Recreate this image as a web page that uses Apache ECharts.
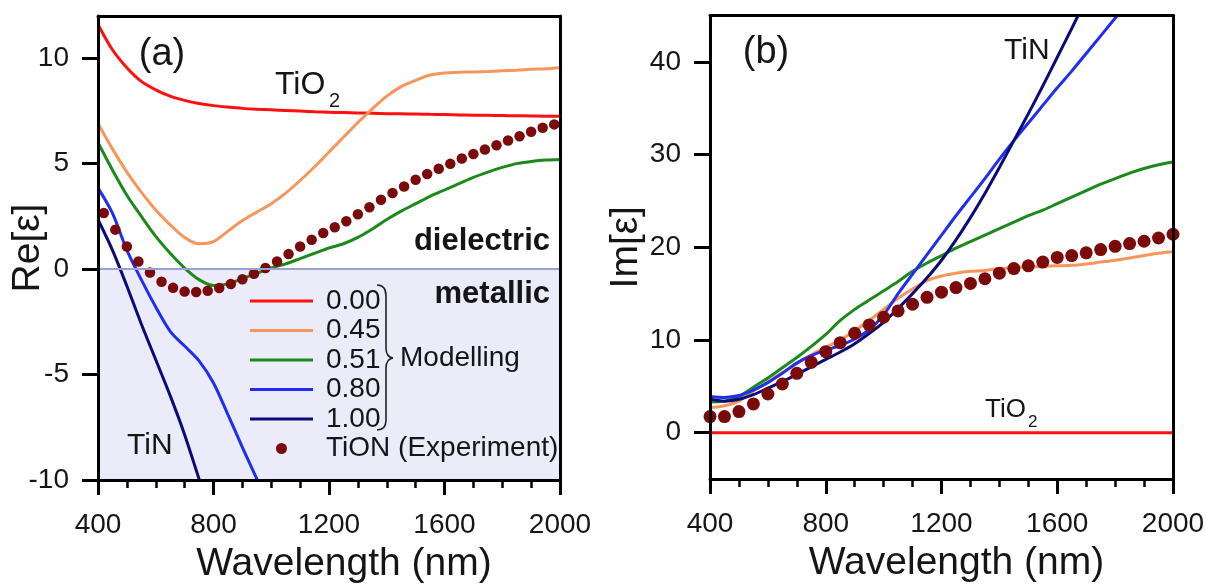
<!DOCTYPE html>
<html>
<head>
<meta charset="utf-8">
<script src="https://cdn.jsdelivr.net/npm/echarts@6.0.0/dist/echarts.min.js"></script>
<style>
html,body{margin:0;padding:0;background:#fff;}
#chart{width:1206px;height:585px;}
</style>
</head>
<body>
<div id="chart"></div>
<script>
// ---------- data ----------
const seriesNames = ['0.00', '0.45', '0.51', '0.80', '1.00', 'TiON (Experiment)'];
const xTicks = [400, 800, 1200, 1600, 2000];
const yTicksA = [-10, -5, 0, 5, 10];
const yTicksB = [0, 10, 20, 30, 40];

const wlModel = [400,450,500,550,600,650,700,750,800,850,900,950,1000,1050,1100,1150,1200,1250,1300,1350,1400,1450,1500,1550,1600,1650,1700,1750,1800,1850,1900,1950,2000];
const wlExpA = [420,460,500,540,580,620,660,700,740,780,820,860,900,940,980,1020,1060,1100,1140,1180,1220,1260,1300,1340,1380,1420,1460,1500,1540,1580,1620,1660,1700,1740,1780,1820,1860,1900,1940,1980];
const wlExpB = [400,450,500,550,600,650,700,750,800,850,900,950,1000,1050,1100,1150,1200,1250,1300,1350,1400,1450,1500,1550,1600,1650,1700,1750,1800,1850,1900,1950,2000];
const wlTiO2B = [400, 2000];

// (a) Re[eps]
const reA_000 = [11.6,10.4,9.55,8.9,8.5,8.2,8.0,7.85,7.75,7.68,7.62,7.58,7.55,7.52,7.49,7.46,7.44,7.42,7.4,7.39,7.37,7.36,7.35,7.34,7.33,7.31,7.3,7.29,7.28,7.27,7.26,7.25,7.25];
const reA_045 = [6.9,5.7,4.6,3.65,2.8,2.1,1.5,1.2,1.3,1.8,2.3,2.7,3.1,3.6,4.2,4.85,5.55,6.25,6.95,7.6,8.2,8.65,8.95,9.2,9.3,9.33,9.35,9.37,9.4,9.43,9.47,9.5,9.55];
const reA_051 = [6.0,4.7,3.5,2.5,1.55,0.75,0.05,-0.5,-0.78,-0.7,-0.45,-0.2,0.05,0.25,0.5,0.75,1.0,1.2,1.5,1.9,2.35,2.75,3.1,3.45,3.75,4.05,4.35,4.6,4.82,5.0,5.1,5.17,5.2];
const reA_080 = [3.85,2.65,0.9,-0.5,-1.8,-2.95,-3.65,-4.35,-5.4,-6.9,-8.45,-9.95,-11.5];
const reA_100 = [2.35,0.9,-0.8,-2.6,-4.3,-6.0,-7.85,-9.95,-12.0];
const reA_exp = [2.66,1.87,1.07,0.36,-0.16,-0.6,-0.89,-1.06,-1.09,-1.03,-0.9,-0.71,-0.48,-0.22,0.05,0.36,0.71,1.07,1.39,1.71,1.98,2.27,2.6,2.93,3.29,3.61,3.92,4.24,4.51,4.76,4.99,5.24,5.46,5.67,5.87,6.1,6.3,6.51,6.7,6.86];

// (b) Im[eps]
const imB_000 = [0, 0];
const imB_045 = [2.7,2.9,3.4,4.5,5.5,6.5,7.5,8.4,9.2,10.0,11.0,12.1,13.3,14.5,15.5,16.4,16.9,17.2,17.4,17.5,17.7,17.8,17.9,17.95,18.0,18.05,18.2,18.4,18.6,18.85,19.1,19.35,19.55];
const imB_051 = [3.3,3.4,3.9,4.9,5.9,7.0,8.1,9.3,10.6,12.1,13.3,14.3,15.3,16.3,17.4,18.3,19.1,19.9,20.6,21.3,22.0,22.7,23.4,24.0,24.7,25.4,26.1,26.8,27.4,28.0,28.5,28.9,29.2];
const imB_080 = [3.9,3.8,4.0,4.6,5.4,6.4,7.5,8.3,8.9,9.4,10.1,11.1,12.7,15.0,17.1,19.2,21.3,23.4,25.4,27.4,29.5,31.5,33.4,35.3,37.2,39.0,40.9,42.8,44.7,46.5];
const imB_100 = [3.6,3.4,3.6,4.1,4.8,5.5,6.3,7.1,7.9,8.7,9.6,10.7,11.9,13.4,15.0,16.7,18.6,20.8,23.2,25.8,28.6,31.5,34.4,37.4,40.5,43.6,46.8];
const imB_exp = [1.73,1.73,2.27,3.1,4.17,5.25,6.4,7.59,8.74,9.71,10.72,11.62,12.45,13.13,13.85,14.6,15.15,15.65,16.1,16.6,17.2,17.7,18.0,18.4,18.9,19.1,19.4,19.75,20.1,20.4,20.65,21.0,21.4];

// ---------- styling ----------
const FONT = '"Liberation Sans", Arial, sans-serif';
const colors = {'0.00':'#ff1010', '0.45':'#f8955a', '0.51':'#1b8a1b', '0.80':'#1f2ef0', '1.00':'#0b0b78', 'TiON (Experiment)':'#7b0a0a'};
const TXT = '#151515';
const LINE_ICON = 'path://M0,0H63V3H0Z';

function pairs(xs, ys) { return ys.map((y, i) => [xs[i], y]); }

function lineSeries(name, xs, ys, gi) {
  return {
    name: name, type: 'line', xAxisIndex: gi, yAxisIndex: gi,
    data: pairs(xs, ys), showSymbol: false, symbol: 'none',
    smooth: 0.3,
    lineStyle: {color: colors[name], width: 3}, itemStyle: {color: colors[name]},
    z: 2, silent: true
  };
}
function dotSeries(xs, ys, gi, size) {
  const name = 'TiON (Experiment)';
  return {
    name: name, type: 'scatter', xAxisIndex: gi, yAxisIndex: gi,
    data: pairs(xs, ys), symbol: 'circle', symbolSize: size,
    itemStyle: {color: colors[name], opacity: 1}, z: 2.5, silent: true
  };
}

function xAxisCfg(gi) {
  return {
    gridIndex: gi, type: 'value', min: 400, max: 2000, interval: 400, position: 'bottom', z: 6,
    axisLine: {show: true, onZero: false, lineStyle: {color: '#000', width: 3}},
    axisTick: {show: true, inside: false, length: 15, lineStyle: {color: '#000', width: 3}},
    minorTick: {show: true, splitNumber: 4, length: 8, lineStyle: {color: '#000', width: 2.5}},
    axisLabel: {show: true, margin: 31, fontSize: 28, color: TXT, fontFamily: FONT,
      formatter: (v) => String(v)},
    splitLine: {show: false}, minorSplitLine: {show: false},
    name: 'Wavelength (nm)', nameLocation: 'middle', nameGap: 65, nameMoveOverlap: false,
    nameTextStyle: {fontSize: 39, color: TXT, fontFamily: FONT, padding: [0, 0, 0, 30]}
  };
}
function frameX(gi) {
  return {
    gridIndex: gi, type: 'value', min: 400, max: 2000, position: 'top', z: 6,
    axisLine: {show: true, onZero: false, lineStyle: {color: '#000', width: 3}},
    axisTick: {show: false}, axisLabel: {show: false}, splitLine: {show: false}
  };
}
function frameY(gi, mn, mx) {
  return {
    gridIndex: gi, type: 'value', min: mn, max: mx, position: 'right', z: 6,
    axisLine: {show: true, onZero: false, lineStyle: {color: '#000', width: 3}},
    axisTick: {show: false}, axisLabel: {show: false}, splitLine: {show: false}
  };
}
function yAxisCfg(gi, mn, mx, ticks, name, gap) {
  return {
    gridIndex: gi, type: 'value', min: mn, max: mx, position: 'left', z: 6,
    axisLine: {show: true, onZero: false, lineStyle: {color: '#000', width: 3}},
    axisTick: {show: true, inside: false, length: 16, lineStyle: {color: '#000', width: 3}, customValues: ticks},
    axisLabel: {show: true, margin: 29, fontSize: 28, color: TXT, fontFamily: FONT, customValues: ticks},
    splitLine: {show: false},
    name: name, nameLocation: 'middle', nameGap: gap, nameMoveOverlap: false,
    nameTextStyle: {fontSize: 39, color: TXT, fontFamily: FONT}
  };
}

function txt(text, x, y, size, opts) {
  opts = opts || {};
  return {
    type: 'text', x: x, y: y, z: 20, silent: true,
    style: {
      text: text, fontSize: size, fontFamily: FONT, fontWeight: opts.bold ? 'bold' : 'normal',
      fill: TXT, align: opts.align || 'left', verticalAlign: 'middle'
    }
  };
}
function quad(x1, y1, cx, cy, x2, y2) {
  return {type: 'bezierCurve', z: 20, silent: true,
    shape: {x1: x1, y1: y1, cpx1: cx, cpy1: cy, x2: x2, y2: y2},
    style: {fill: 'none', stroke: '#222', lineWidth: 1.6}};
}
function seg(x1, y1, x2, y2) {
  return {type: 'line', z: 20, silent: true,
    shape: {x1: x1, y1: y1, x2: x2, y2: y2},
    style: {stroke: '#222', lineWidth: 1.6}};
}

const legendData = seriesNames.map((n) => n === 'TiON (Experiment)'
  ? {name: n, icon: 'circle'}
  : {name: n, icon: LINE_ICON});

const chart = echarts.init(document.getElementById('chart'), null, {renderer: 'canvas'});

const option = {
  backgroundColor: '#fff',
  animation: false,
  textStyle: {fontFamily: FONT},
  grid: [
    {left: 98, top: 16, width: 462, height: 464, outerBoundsMode: 'none', containLabel: false},
    {left: 710, top: 15.5, width: 463, height: 463.5, outerBoundsMode: 'none', containLabel: false}
  ],
  xAxis: [xAxisCfg(0), xAxisCfg(1), frameX(0), frameX(1)],
  yAxis: [
    yAxisCfg(0, -10, 12, yTicksA, 'Re[ε]', 50),
    yAxisCfg(1, -5, 45, yTicksB, 'Im[ε]', 64),
    frameY(0, -10, 12), frameY(1, -5, 45)
  ],
  legend: {
    show: true, data: legendData, orient: 'vertical', left: 245, top: 282,
    itemWidth: 63, itemHeight: 11, itemGap: 1.5, selectedMode: false, symbolKeepAspect: true,
    textStyle: {fontSize: 28, color: TXT, fontFamily: FONT, padding: [0, 0, 0, 8]},
    z: 10
  },
  graphic: [
    txt('(a)', 162, 55, 38, {align: 'center'}),
    txt('TiO', 275, 85, 32),
    txt('2', 329, 101, 20),
    txt('dielectric', 550, 241, 31, {bold: true, align: 'right'}),
    txt('metallic', 550, 294, 31, {bold: true, align: 'right'}),
    txt('TiN', 127, 446, 30),
    txt('Modelling', 400, 358, 28),
    quad(377, 285, 386, 285, 386, 296),
    seg(386, 296, 386, 348),
    quad(386, 348, 386, 357, 393, 358),
    quad(393, 358, 386, 359, 386, 368),
    seg(386, 368, 386, 420),
    quad(386, 420, 386, 430, 377, 430),
    txt('(b)', 766, 53, 38, {align: 'center'}),
    txt('TiN', 1004, 51, 30),
    txt('TiO', 985, 410, 26),
    txt('2', 1028, 422, 17)
  ],
  series: [
    // panel (a)
    lineSeries('0.00', wlModel, reA_000, 0),
    lineSeries('0.45', wlModel, reA_045, 0),
    lineSeries('0.51', wlModel, reA_051, 0),
    lineSeries('0.80', wlModel, reA_080, 0),
    lineSeries('1.00', wlModel, reA_100, 0),
    dotSeries(wlExpA, reA_exp, 0, 10.5),
    {
      name: 'metallic region', type: 'line', xAxisIndex: 0, yAxisIndex: 0, data: [], z: 3, silent: true,
      markArea: {silent: true, itemStyle: {color: 'rgba(188,188,236,0.30)'},
        data: [[{coord: [400, 0]}, {coord: [2000, -10]}]]},
      markLine: {silent: true, symbol: ['none', 'none'], label: {show: false},
        lineStyle: {color: '#9aa0cf', width: 2, type: 'solid'},
        data: [{yAxis: 0}]}
    },
    // panel (b)
    lineSeries('0.00', wlTiO2B, imB_000, 1),
    lineSeries('0.45', wlModel, imB_045, 1),
    lineSeries('0.51', wlModel, imB_051, 1),
    lineSeries('0.80', wlModel, imB_080, 1),
    lineSeries('1.00', wlModel, imB_100, 1),
    dotSeries(wlExpB, imB_exp, 1, 13)
  ]
};
chart.setOption(option);
</script>
</body>
</html>
